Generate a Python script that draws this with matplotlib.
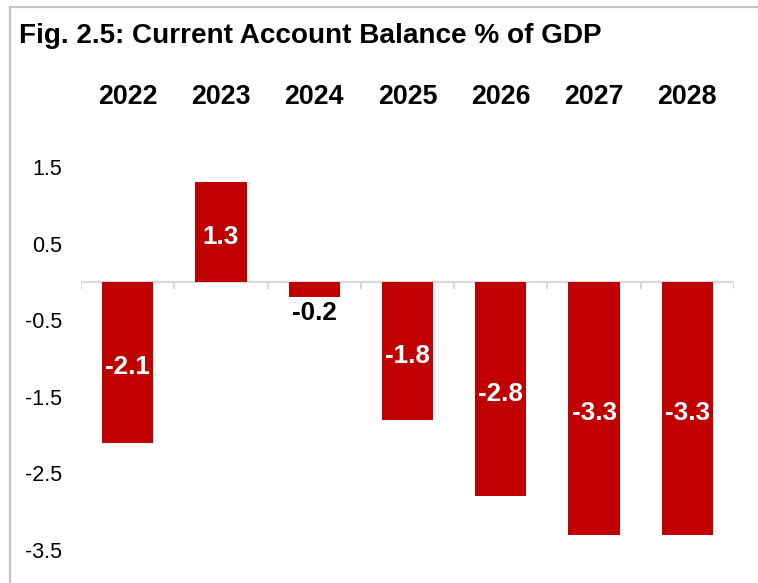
import matplotlib

matplotlib.use("Agg")
import matplotlib.pyplot as plt
from matplotlib.lines import Line2D

plt.rcParams["font.family"] = ["Liberation Sans", "DejaVu Sans"]

# Current account balance, % of GDP
years = ["2022", "2023", "2024", "2025", "2026", "2027", "2028"]
balance = [-2.1, 1.3, -0.2, -1.8, -2.8, -3.3, -3.3]
y_ticks = [1.5, 0.5, -0.5, -1.5, -2.5, -3.5]

BAR_RED = "#C00000"
GRID_GRAY = "#D9D9D9"
FRAME_GRAY = "#C4C4C4"

fig = plt.figure(figsize=(7.58, 5.83), dpi=100)

# light frame on the top and left of the panel
fig.add_artist(Line2D([9.5 / 758, 1.0], [1 - 6.5 / 583] * 2,
                      transform=fig.transFigure, color=FRAME_GRAY, lw=1.6))
fig.add_artist(Line2D([9.5 / 758] * 2, [0.0, 1 - 6.5 / 583],
                      transform=fig.transFigure, color=FRAME_GRAY, lw=1.6))

fig.text(19 / 758, 1 - 43 / 583, "Fig. 2.5: Current Account Balance % of GDP",
         fontsize=20.1, fontweight="bold", ha="left", va="baseline")

ax = fig.add_axes([81 / 758, 33 / 583, 653 / 758, 383 / 583])
x = list(range(len(years)))
ax.bar(x, balance, width=0.55, color=BAR_RED, edgecolor="none", zorder=2)

ax.set_xlim(-0.5, len(years) - 0.5)
ax.set_ylim(-3.5, 1.5)
ax.set_yticks(y_ticks)
ax.set_yticklabels([f"{v:g}" for v in y_ticks])
ax.tick_params(axis="y", length=0, pad=13.5, labelsize=15.5)
ax.set_xticks([])
for side in ("top", "right", "left", "bottom"):
    ax.spines[side].set_visible(False)

# zero line with category-boundary ticks hanging below it
ax.axhline(0, color=GRID_GRAY, lw=1.5, zorder=1)
for b in range(len(years) + 1):
    ax.plot([b - 0.5, b - 0.5], [0, -0.09], color=GRID_GRAY, lw=1.5,
            zorder=1, solid_capstyle="butt")

# year header row above the plot
for i, yr in enumerate(years):
    ax.text(i, 1 + 70 / 383, yr, transform=ax.get_xaxis_transform(),
            ha="center", va="center", fontsize=19.3, fontweight="bold")

for i, v in enumerate(balance):
    if abs(v) < 0.5:
        ax.annotate(f"{v:.1f}", (i, v), xytext=(0, -3), textcoords="offset points",
                    ha="center", va="top", fontsize=18.8, fontweight="bold",
                    color="black")
    else:
        ax.annotate(f"{v:.1f}", (i, v / 2), xytext=(0, -3.5),
                    textcoords="offset points", ha="center", va="center",
                    fontsize=18.8, fontweight="bold", color="white", zorder=3)

fig.savefig("out.png", dpi=100)
